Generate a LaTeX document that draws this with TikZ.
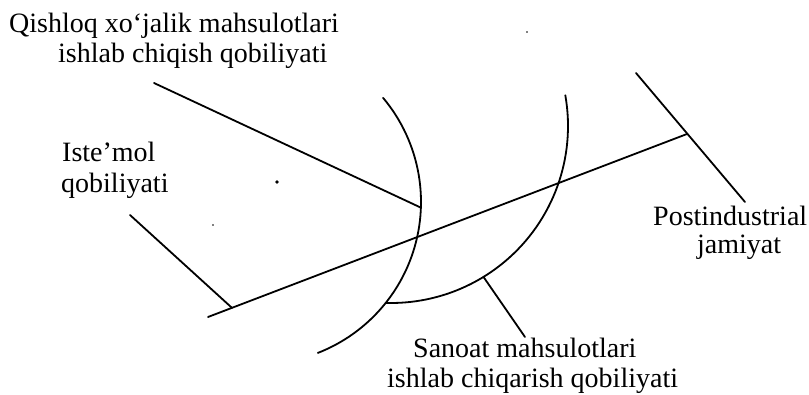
\documentclass[tikz,border=0pt]{standalone}
\usepackage{fontspec}
\setmainfont{Liberation Serif}
\usetikzlibrary{calc}
\tikzset{
  lbl/.style={anchor=base west, inner sep=0pt, font=\fontsize{28}{30}\selectfont},
  ln/.style={line width=1.8pt, line cap=round},
  speck/.style={fill=black}
}
\begin{document}
\begin{tikzpicture}[x=1pt,y=-1pt]
\useasboundingbox (0,0) rectangle (809,395);
% centres of the two arcs
\coordinate (CL) at (259,202);
\coordinate (CR) at (391,126);
% points on the arcs
\coordinate (LA) at ([shift={(-40:162)}]CL);
\coordinate (RA) at ([shift={(-10:177)}]CR);
\coordinate (J)  at ([shift={(38.5:162)}]CL);
\coordinate (QE) at ([shift={(2:162)}]CL);
\coordinate (SE) at ([shift={(58.5:177)}]CR);
% main line
\coordinate (M1) at (208,317);
\coordinate (M2) at (687,134);
\coordinate (IE) at ($(M1)!0.05!(M2)$);
% free ends of leaders
\coordinate (Q1) at (154,83);
\coordinate (I1) at (130,215);
\coordinate (S1) at (525,337);
\coordinate (P1) at (636,73);
\coordinate (P2) at (745,202);

% labels
\node[lbl] (q1) at (9,33) {Qishloq xo‘jalik mahsulotlari};
\node[lbl] (q2) at (58,63) {ishlab chiqish qobiliyati};
\node[lbl] (i1) at (62,162) {Iste’mol};
\node[lbl] (i2) at (61,193) {qobiliyati};
\node[lbl] (p1) at (653,226) {Postindustrial};
\node[lbl] (p2) at (697,254) {jamiyat};
\node[lbl] (s1) at (413,358) {Sanoat mahsulotlari};
\node[lbl] (s2) at (387,388) {ishlab chiqarish qobiliyati};

% arcs
\draw[ln] (LA) arc[start angle=-40, end angle=68.7, radius=162];
\draw[ln] (RA) arc[start angle=-10, end angle=91.7, radius=177];
% main line
\draw[ln] (M1) -- (M2);
% leaders
\draw[ln] (Q1) -- (QE);
\draw[ln] (I1) -- (IE);
\draw[ln] (SE) -- (S1);
\draw[ln] (P1) -- (P2);

% specks shown in the picture
\fill[speck] (277,182) circle[radius=1.8];
\fill[speck] (213,225) circle[radius=0.9];
\fill[speck] (527,32) circle[radius=0.9];
\end{tikzpicture}
\end{document}
